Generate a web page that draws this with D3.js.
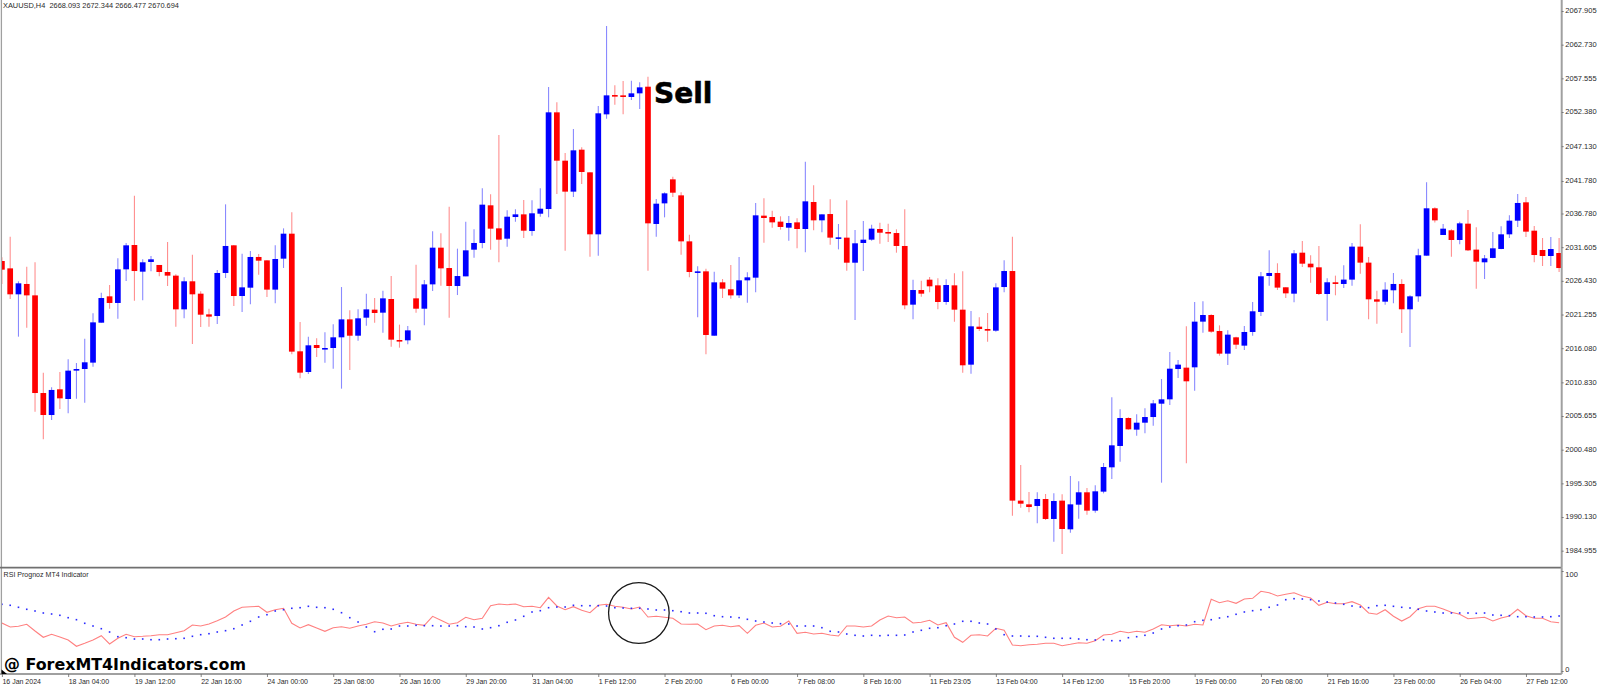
<!DOCTYPE html>
<html><head><meta charset="utf-8">
<script src="https://cdn.jsdelivr.net/npm/d3@7/dist/d3.min.js"></script>
<style>
html,body{margin:0;padding:0;background:#fff;overflow:hidden}
svg{display:block}
text{font-family:"Liberation Sans",Arial,sans-serif;fill:#2a2a2a}
</style></head><body>
<script>
const opens=[2029.48,2028.35,2024.36,2025.95,2024.2,2009.19,2005.81,2009.76,2008.27,2012.63,2012.88,2013.86,2020,2024.05,2023.03,2028.2,2031.94,2027.84,2029.33,2028.87,2027.79,2027.23,2022.05,2026.36,2024.46,2021.28,2021.03,2027.64,2031.89,2024.1,2025.38,2030.1,2029.58,2025.08,2029.84,2033.68,2015.6,2012.42,2016.57,2016.01,2016.11,2017.75,2020.51,2018,2020.77,2022,2021.54,2023.64,2017.34,2017.29,2023.74,2022.15,2025.89,2031.53,2028.4,2025.64,2027.12,2031.22,2032.25,2038.04,2034.5,2032.91,2036.24,2036.65,2034.09,2036.75,2037.47,2052.33,2044.9,2040.14,2046.59,2043.11,2033.58,2052.02,2054.99,2054.94,2054.69,2055.25,2056.27,2035.17,2038.34,2042.03,2039.57,2032.5,2027.74,2027.89,2018,2026.2,2025.13,2024.2,2026.51,2026.92,2036.45,2036.24,2035.53,2034.6,2035.42,2034.4,2038.55,2035.73,2036.7,2032.96,2033.07,2029.22,2032.25,2032.76,2034.4,2033.94,2033.78,2031.79,2022.77,2025.02,2026.61,2025.74,2023.18,2025.74,2022,2013.55,2019.39,2019.03,2018.77,2025.48,2027.94,1992.65,1992.08,1991.83,1992.9,1989.83,1992.65,1988.24,1992.03,1993.93,1991.11,1994.03,1997.77,2001.05,2005.35,2003.56,2004.63,2005.5,2007.55,2008.22,2012.88,2013.09,2013.14,2020.16,2021.18,2018.72,2015.24,2017.75,2016.47,2018.57,2021.65,2027.18,2027.64,2025.44,2024.46,2030.76,2029.07,2028.51,2024.41,2026.21,2025.95,2026.62,2031.69,2029.23,2023.59,2023.23,2024.98,2025.95,2022.06,2024.05,2030.3,2037.58,2033.48,2034.2,2032.71,2035.22,2031.23,2029.28,2029.95,2031.33,2033.58,2035.68,2038.5,2034.14,2031.17,2030.25,2030.71];
const closes=[2028.15,2024.36,2026.05,2024.2,2009.19,2005.81,2009.66,2008.37,2012.63,2012.88,2013.91,2020.05,2023.79,2023.03,2028.2,2031.89,2027.94,2029.28,2029.74,2027.79,2027.23,2022.05,2026.36,2024.36,2021.23,2020.93,2027.64,2031.79,2024.1,2025.43,2030.1,2029.53,2025.08,2029.79,2033.68,2015.55,2012.32,2016.52,2016.11,2016.11,2017.75,2020.51,2018,2020.67,2022.05,2021.49,2023.74,2017.39,2017.24,2018.82,2022.15,2025.89,2031.53,2028.35,2025.64,2027.17,2031.12,2032.25,2038.14,2034.45,2032.76,2036.29,2036.65,2034.14,2036.81,2037.52,2052.33,2044.9,2040.14,2046.49,2043.16,2033.58,2052.18,2054.94,2054.89,2054.69,2055.25,2056.17,2035.27,2038.29,2039.88,2039.98,2032.5,2027.79,2027.89,2018.11,2026.2,2025.23,2024.2,2026.51,2026.97,2036.5,2036.09,2035.42,2034.71,2035.32,2034.4,2038.65,2035.73,2036.65,2033.07,2033.12,2029.22,2032.2,2032.76,2034.45,2033.83,2033.73,2031.79,2022.67,2025.02,2024.46,2025.59,2023.18,2025.79,2022,2013.45,2019.44,2019.03,2018.77,2025.43,2027.94,1992.65,1992.18,1991.67,1992.9,1989.83,1992.59,1988.29,1992.08,1993.93,1991.11,1994.08,1997.82,2001.15,2005.35,2003.61,2004.63,2005.5,2007.6,2008.22,2012.93,2013.55,2010.99,2020.16,2021.18,2018.62,2015.24,2018.16,2016.62,2018.57,2021.75,2027.13,2027.64,2025.39,2024.51,2030.66,2029.07,2028.51,2024.41,2026.21,2025.95,2026.62,2031.69,2029.23,2023.59,2023.23,2025.08,2025.95,2022.06,2024.05,2030.36,2037.58,2035.73,2034.45,2032.71,2035.27,2031.12,2029.38,2029.89,2031.43,2033.58,2035.68,2038.4,2033.99,2030.4,2030.25,2031.32,2028.4];
const highs=[2030.04,2033.22,2026.36,2028.61,2029.28,2012.32,2010.07,2012.42,2014.37,2013.8,2017.54,2021.44,2024.61,2025.79,2029.89,2032.25,2039.52,2029.74,2030.25,2028.87,2032.4,2027.43,2026.97,2030.45,2024.82,2022.16,2028.1,2038.19,2031.94,2030.61,2031.02,2030.56,2029.58,2031.89,2034.5,2036.96,2020.1,2017.85,2017.59,2018.52,2019.75,2025.48,2021.9,2022.05,2024.46,2023.79,2024.92,2027.17,2019.7,2019.49,2028.92,2026.56,2034.04,2033.73,2037.83,2031.38,2035.52,2034.35,2040.65,2039.73,2048.84,2037.27,2037.42,2038.85,2038.8,2040.65,2056.22,2053.87,2046.08,2049.77,2046.95,2043.11,2053.3,2065.6,2056.48,2057.14,2057.2,2056.94,2057.81,2039.01,2040.03,2042.44,2040.03,2033.53,2028.66,2028.3,2027.84,2026.71,2028.87,2030.1,2027.74,2038.39,2039.11,2037.22,2036.35,2036.4,2036.04,2044.75,2041.11,2036.65,2038.96,2035.17,2038.8,2034.24,2035.63,2035.06,2035.37,2035.22,2034.35,2037.42,2026.61,2026.46,2027.02,2026.82,2026.66,2027.58,2027.89,2021.8,2020.82,2021.49,2026.05,2029.58,2033.22,1998.13,1993.98,1993.93,1993.67,1993.77,1993.62,1996.44,1995.62,1994.59,1995,1998.43,2008.53,2006.68,2005.45,2005.91,2006.84,2008.12,2011.34,2015.49,2014.26,2019.44,2023.18,2023.28,2021.28,2019.59,2018.82,2017.85,2019.49,2023.18,2027.79,2031.12,2029.13,2025.44,2031.17,2032.56,2030.36,2031.79,2026.82,2027.23,2028.82,2032.25,2035.12,2030.1,2024.92,2026.21,2027.64,2026.67,2024.21,2031.38,2041.57,2037.73,2035.17,2034.35,2035.53,2037.32,2034.66,2030.41,2033.94,2034.81,2036.5,2039.78,2039.32,2034.86,2033,2033.17,2033];
const lows=[2025.95,2023.64,2017.85,2019.24,2006.33,2002.07,2005.04,2006.73,2006.07,2008.32,2007.71,2013.24,2020,2022.16,2020.62,2026.41,2023.38,2023.44,2027.89,2027.12,2025.64,2019.39,2020.67,2016.72,2019.34,2019.39,2019.8,2026.87,2022.57,2021.64,2022.82,2027.38,2023.95,2022.97,2028.41,2015.14,2011.45,2012.11,2014.73,2013.85,2012.93,2009.86,2012.73,2017.24,2019.54,2020,2018.46,2016.31,2016.16,2016.67,2021.54,2019.59,2024.87,2025.69,2020.77,2024.25,2027.12,2029.99,2031.43,2031.22,2029.27,2031.68,2035.52,2033.01,2033.37,2036.29,2036.19,2039.78,2031.07,2039.32,2041.31,2030.15,2030.3,2051.36,2053.51,2052.02,2054.22,2052.84,2027.99,2033.22,2036.19,2039.32,2030.45,2026.97,2020.82,2015.14,2018,2023.79,2023.69,2023.79,2023.08,2024.66,2032.3,2034.6,2034.3,2032.61,2031.43,2030.81,2034.19,2033.89,2031.99,2031.27,2027.99,2020.41,2027.94,2032.61,2032.14,2032.4,2030.76,2022.05,2020.52,2024,2024.66,2022.05,2022.77,2020.16,2012.32,2012.16,2018.72,2017.08,2018.62,2024.66,1990.34,1991.57,1990.85,1989.16,1989.67,1986.34,1984.45,1987.73,1989.88,1990.49,1990.8,1993.77,1995.98,1998.64,2003.56,2002.64,2002.99,2004.17,1995.41,2007.35,2011.5,1998.38,2009.55,2018.47,2018.47,2014.93,2013.5,2015.96,2015.81,2018.01,2021.03,2025.69,2025.03,2023.8,2023.13,2028.56,2026.15,2024.26,2020.31,2024.21,2025.33,2025.69,2027.54,2020.52,2019.85,2022.77,2022.98,2018.42,2016.27,2023.23,2030.3,2035.38,2033.48,2030.15,2032.05,2031.02,2025.23,2026.72,2029.89,2031.28,2033.02,2034.71,2033.17,2029.3,2028.7,2028.71,2027.8];
const rsiLine=[48,44,44.7,46.7,40,33.7,36.7,34,31,24.7,27.7,31,35.3,27,32.7,36.7,34.3,34.7,35.3,36.3,36.3,38.3,40.3,46,45,47,50.3,54,60,63.7,64.3,64.7,58.7,61.3,62.7,47.7,43,46.3,43,39.7,43.3,44.3,42.7,45,46.7,49.3,48,45,47.3,48.7,46.7,45.7,54.7,50.7,46.7,48.3,53.7,51.3,52.7,65.3,67,66.3,67,64.3,64.7,63.3,73.7,65,61.3,64.3,60.7,58.3,65.7,66.7,64.7,63.7,62,64,54,54.7,53.7,52.7,47,46.7,47,41.3,45,45.7,44.3,45.3,37.7,45.7,48,44,44.7,50,37.7,38.7,37,37.7,36,35,45,45,44,45,51,55,53.3,54,48,48.7,50.7,46,48.3,33.7,28.7,35.7,36.3,35,42.7,40.7,26,25.3,26.3,26.7,27.7,27.7,25.3,26.7,28.3,27.7,30.3,36,36.7,39.7,38.3,39.7,38.7,42,46.3,45.3,46,45,46.7,46,71.7,68.3,70.3,67.7,72,72.7,79.7,78.3,75,76.7,78.3,75,73,65.7,68.7,67.3,67.3,69.3,66,58,56.7,61.3,54.7,50,54.3,62.3,64.7,64.7,62,58.7,56.7,52.3,53,53.7,50,53,55,61.7,55.3,52.7,52.7,49.3,48.3];
const rsiDots=[66.7,65.7,63.7,61.7,60,58,57,55.7,53.3,51.3,47.7,45,42.3,39,34.3,33.3,32,32,31.3,31.3,32,32.3,32.7,34.7,36.3,37.3,39,40.3,42.3,46,49.7,54,56.3,60,61.3,62.7,63.3,64.7,63.7,63.3,61.7,58.3,53.3,49,44,39.3,41.7,42,45,45,45.7,45.3,45.3,45,45,45.3,44.3,44,42,43.3,45.3,48.7,51,54.7,59,60.3,63.3,64,64,65.7,65.3,65.3,65.3,65,63.3,63,62.7,62.7,62,61,61,60.3,59.3,58,58,57.7,55.3,54.3,54,53.3,51.7,50,49,48,47.3,47,45,45,45,43.3,39.7,39,37,35.7,35,35.7,35.3,35.7,35.7,36,39,40.7,42.7,43.3,45.3,47,49.7,49.7,48,47,42,36.3,35,35,34.7,34.7,33.7,32.7,32.7,32.7,32,31.3,31,31.3,30.3,30.3,33.3,34.3,35.7,38,42,44,45.3,46,49.3,50.7,51.3,53,54.3,56.7,59,60.3,61.3,63.7,66,71.3,72.3,72,71.3,70,69,68,66.7,65,64,63.3,65.3,65.7,64.7,63.7,63,61.7,60,59,58,58,58,58,57.7,58,56,55.7,55.3,54.3,54.3,54,54,54.3,55];
const priceTicks=[2067.905,2062.73,2057.555,2052.38,2047.13,2041.78,2036.78,2031.605,2026.43,2021.255,2016.08,2010.83,2005.655,2000.48,1995.305,1990.13,1984.955];
const rsiTicks=[0,100];
const timeLabels=["16 Jan 2024","18 Jan 04:00","19 Jan 12:00","22 Jan 16:00","24 Jan 00:00","25 Jan 08:00","26 Jan 16:00","29 Jan 20:00","31 Jan 04:00","1 Feb 12:00","2 Feb 20:00","6 Feb 00:00","7 Feb 08:00","8 Feb 16:00","11 Feb 23:05","13 Feb 04:00","14 Feb 12:00","15 Feb 20:00","19 Feb 00:00","20 Feb 08:00","21 Feb 16:00","23 Feb 00:00","26 Feb 04:00","27 Feb 12:00"];
const timeStep=8;
const headerText="XAUUSD,H4  2668.093 2672.344 2666.477 2670.694";
const indicatorName="RSI Prognoz MT4 Indicator";
const sellLabel="Sell", siteLabel="@ ForexMT4Indicators.com";

const W=1600,H=686,right=1561.7,sep=567.7,bottom=674;
const svg=d3.select("body").append("svg").attr("width",W).attr("height",H);
const defs=svg.append("defs");
defs.append("clipPath").attr("id","cp").append("rect").attr("x",2).attr("y",0).attr("width",right-2).attr("height",sep);
defs.append("clipPath").attr("id","cr").append("rect").attr("x",2).attr("y",sep).attr("width",right-2).attr("height",bottom-sep);

const x=d3.scaleLinear().domain([0,188]).range([1.9,1559.1]);
const y=d3.scaleLinear().domain([1984.955,2067.905]).range([550.7,11]);
const r=d3.scaleLinear().domain([0,100]).range([671,571]);
const idx=d3.range(opens.length);
const up=i=>closes[i]>=opens[i];

const main=svg.append("g").attr("clip-path","url(#cp)");
main.selectAll("line.w").data(idx).join("line").attr("class","w")
  .attr("x1",x).attr("x2",x).attr("y1",i=>y(highs[i])).attr("y2",i=>y(lows[i]))
  .attr("stroke",i=>up(i)?"#8a8aff":"#ff8f8f").attr("stroke-width",1.1);
main.selectAll("rect.b").data(idx).join("rect").attr("class","b")
  .attr("x",i=>x(i)-2.85).attr("width",5.7)
  .attr("y",i=>Math.min(y(opens[i]),y(closes[i])))
  .attr("height",i=>Math.max(1.6,Math.abs(y(opens[i])-y(closes[i]))))
  .attr("fill",i=>up(i)?"#0000ff":"#ff0000");

const ind=svg.append("g").attr("clip-path","url(#cr)");
ind.append("path").datum(rsiLine)
  .attr("d",d3.line().x((d,i)=>x(i)).y(d=>r(d)))
  .attr("fill","none").attr("stroke","#ff8080").attr("stroke-width",1.1);
ind.selectAll("rect.d").data(rsiDots).join("rect").attr("class","d")
  .attr("x",(d,i)=>x(i)-0.8).attr("y",d=>r(d)-0.8).attr("width",1.6).attr("height",1.6).attr("fill","#2a2aff");
ind.append("circle").attr("cx",x(76.9)).attr("cy",r(58)).attr("r",30.3)
  .attr("fill","none").attr("stroke","#1a1a1a").attr("stroke-width",1.3);

// frame
const gray="#a0a0a0";
svg.append("line").attr("x1",1.4).attr("x2",1.4).attr("y1",0).attr("y2",bottom).attr("stroke",gray).attr("stroke-width",1.3);
svg.append("line").attr("x1",0).attr("x2",right).attr("y1",sep).attr("y2",sep).attr("stroke","#707070").attr("stroke-width",1.8);

function styleAxis(g){g.select(".domain").attr("stroke",gray).attr("stroke-width",2);
  g.selectAll(".tick line").attr("stroke","#666").attr("stroke-width",0.8);
  g.selectAll("text").style("font-size","7.5px");}

const pa=svg.append("g").attr("transform",`translate(${right},0)`)
  .call(d3.axisRight(y).tickValues(priceTicks).tickFormat(d=>d.toFixed(3)).tickSize(2).tickPadding(1.6).tickSizeOuter(0));
pa.select(".domain").attr("d",`M0,0V${sep}`);
styleAxis(pa);
pa.selectAll("text").attr("dy","0.26em");
const ra=svg.append("g").attr("transform",`translate(${right},0)`)
  .call(d3.axisRight(r).tickValues(rsiTicks).tickSize(2).tickPadding(1.6).tickSizeOuter(0));
ra.select(".domain").attr("d",`M0,${sep}V${bottom}`);
styleAxis(ra);
ra.selectAll(".tick").each(function(d){d3.select(this).select("text").attr("dy",d===100?"0.7em":"0.1em");});

const ta=svg.append("g").attr("transform",`translate(0,${bottom})`)
  .call(d3.axisBottom(x).tickValues(timeLabels.map((d,i)=>i*timeStep)).tickFormat(d=>timeLabels[d/timeStep]).tickSize(3).tickPadding(1.5).tickSizeOuter(0));
ta.select(".domain").attr("d",`M0,0H${right}`);
styleAxis(ta);
ta.selectAll("text").style("font-size","8px").attr("text-anchor","start").attr("x",0).attr("y",4).attr("dy","0.71em")
  .attr("textLength",function(){return this.getComputedTextLength()*0.875;}).attr("lengthAdjust","spacingAndGlyphs");

svg.append("text").attr("x",3).attr("y",7.6).style("font-size","7.4px").style("white-space","pre").text(headerText);
svg.append("text").attr("x",3.6).attr("y",577).style("font-size","7.6px")
  .attr("textLength",85).attr("lengthAdjust","spacingAndGlyphs").text(indicatorName);

svg.append("text").attr("x",654).attr("y",103.3).style("font-family","'DejaVu Sans'").style("font-weight","bold").style("font-size","28px").style("fill","#000")
  .style("stroke","#000").style("stroke-width","0.6px").text(sellLabel);
svg.append("text").attr("x",4).attr("y",670).style("font-family","'DejaVu Sans'").style("font-weight","bold").style("font-size","15.5px").style("fill","#000")
  .attr("textLength",242).attr("lengthAdjust","spacingAndGlyphs").text(siteLabel);
svg.append("path").attr("d",d3.line()([[1.5,669.5],[7,674],[1.5,674]])+"Z").attr("fill","#000");
</script>
</body></html>
